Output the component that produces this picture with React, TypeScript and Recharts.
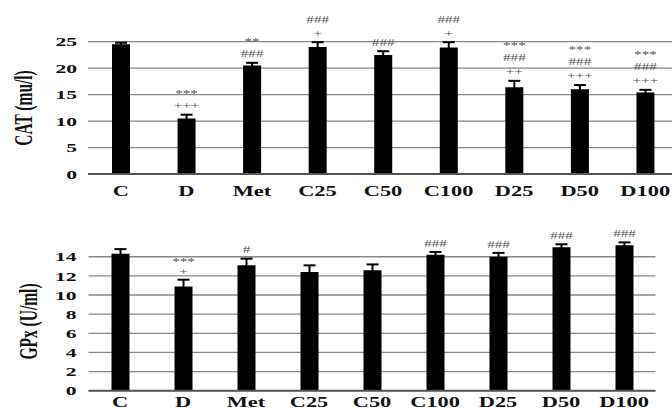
import React from 'react';
import { ComposedChart, Bar, XAxis, YAxis, CartesianGrid, ErrorBar, LabelList } from 'recharts';

const categories = ['C', 'D', 'Met', 'C25', 'C50', 'C100', 'D25', 'D50', 'D100'];
const catMeans = [24.5, 10.5, 20.5, 24.0, 22.5, 23.9, 16.4, 16.0, 15.4];
const catErr = [0.3, 0.7, 0.5, 0.9, 0.7, 1.0, 1.2, 0.8, 0.5];
const catMarks = [
  [],
  ['***', '+++'],
  ['**', '###'],
  ['###', '+'],
  ['###'],
  ['###', '+'],
  ['***', '###', '++'],
  ['***', '###', '+++'],
  ['***', '###', '+++'],
];
const catTicks = [0, 5, 10, 15, 20, 25];

const gpxMeans = [14.3, 10.9, 13.1, 12.4, 12.6, 14.2, 14.0, 15.0, 15.2];
const gpxErr = [0.5, 0.7, 0.7, 0.7, 0.6, 0.3, 0.4, 0.3, 0.3];
const gpxMarks = [
  [],
  ['***', '+'],
  ['#'],
  [],
  [],
  ['###'],
  ['###'],
  ['###'],
  ['###'],
];
const gpxTicks = [0, 2, 4, 6, 8, 10, 12, 14];

const catData = categories.map((c, i) => ({ name: c, v: catMeans[i], err: catErr[i] }));
const gpxData = categories.map((c, i) => ({ name: c, v: gpxMeans[i], err: gpxErr[i] }));

const SERIF = '"Liberation Serif", "Times New Roman", serif';
const SX = 1.6;

const YTick = (props: any) => {
  const { x, y, payload } = props;
  return (
    <text
      transform={`translate(${x},${y}) scale(${SX},1)`}
      textAnchor="end"
      dy="0.35em"
      fontFamily={SERIF}
      fontWeight="bold"
      fontSize={13.5}
      fill="#111"
    >
      {payload.value}
    </text>
  );
};

const makeXTick = (dy: number) => (props: any) => {
  const { x, y, payload } = props;
  return (
    <text
      transform={`translate(${x},${y}) scale(${SX},1)`}
      textAnchor="middle"
      y={dy}
      fontFamily={SERIF}
      fontWeight="bold"
      fontSize={14}
      fill="#111"
    >
      {payload.value}
    </text>
  );
};

const makeMarks = (marks: string[][], errs: number[], first: number, gap: number) => (props: any) => {
  const { x, y, width, height, value, index } = props;
  const lines = marks[index] || [];
  if (!lines.length) return null;
  const ppu = Number(height) / Number(value);
  const errTop = Number(y) - errs[index] * ppu;
  const cx = Number(x) + Number(width) / 2;
  const n = lines.length;
  return (
    <g>
      {lines.map((s, k) => {
        const cy = errTop - first - (n - 1 - k) * gap;
        return (
          <text
            key={k}
            transform={`translate(${cx},${cy}) scale(${SX},1)`}
            textAnchor="middle"
            dy={s.startsWith('*') ? '0.55em' : '0.35em'}
            fontFamily={SERIF}
            fontSize={9.5}
            fill="#555"
          >
            {s}
          </text>
        );
      })}
    </g>
  );
};

const makeTitle = (text: string, cx: number, cy: number) => () => (
  <text
    transform={`translate(${cx},${cy}) scale(1.6,1) rotate(-90)`}
    textAnchor="middle"
    dy="0.35em"
    fontFamily={SERIF}
    fontWeight="bold"
    fontSize={15.5}
    fill="#111"
  >
    {text}
  </text>
);

export default function App() {
  return (
    <div style={{ position: 'absolute', left: 0, top: 0, width: 672, height: 409, overflow: 'hidden', background: '#fff' }}>
      <div style={{ position: 'absolute', left: 0, top: 0 }}>
        <ComposedChart width={690} height={205} data={catData} margin={{ top: 15.2, right: 12, bottom: 0, left: 0 }}>
          <CartesianGrid vertical={false} stroke="#888" strokeWidth={1.3} horizontalValues={catTicks} />
          <XAxis
            dataKey="name"
            height={31}
            axisLine={{ stroke: '#555', strokeWidth: 2 }}
            tickLine={false}
            tickSize={0}
            tickMargin={0}
            interval={0}
            tick={makeXTick(22)}
          />
          <YAxis
            width={88}
            domain={[0, 30]}
            ticks={catTicks}
            interval={0}
            axisLine={false}
            tickLine={false}
            tickSize={0}
            tickMargin={11}
            tick={<YTick />}
            label={{ content: makeTitle('CAT (mu/l)', 23, 108) }}
          />
          <Bar dataKey="v" fill="#000" barSize={18} isAnimationActive={false}>
            <ErrorBar dataKey="err" direction="y" width={6} stroke="#000" strokeWidth={2} isAnimationActive={false} />
            <LabelList dataKey="v" content={makeMarks(catMarks, catErr, 9, 14)} />
          </Bar>
        </ComposedChart>
      </div>
      <div style={{ position: 'absolute', left: 0, top: 205 }}>
        <ComposedChart width={672} height={204} data={gpxData} margin={{ top: 32.6, right: 16.5, bottom: 0, left: 0 }}>
          <CartesianGrid vertical={false} stroke="#888" strokeWidth={1.3} horizontalValues={gpxTicks} />
          <XAxis
            dataKey="name"
            height={18.3}
            axisLine={{ stroke: '#555', strokeWidth: 2 }}
            tickLine={false}
            tickSize={0}
            tickMargin={0}
            interval={0}
            tick={makeXTick(16)}
          />
          <YAxis
            width={88.5}
            domain={[0, 16]}
            ticks={gpxTicks}
            interval={0}
            axisLine={false}
            tickLine={false}
            tickSize={0}
            tickMargin={12}
            tick={<YTick />}
            label={{ content: makeTitle('GPx (U/ml)', 28, 116.5) }}
          />
          <Bar dataKey="v" fill="#000" barSize={18} isAnimationActive={false}>
            <ErrorBar dataKey="err" direction="y" width={6} stroke="#000" strokeWidth={2} isAnimationActive={false} />
            <LabelList dataKey="v" content={makeMarks(gpxMarks, gpxErr, 8.5, 11)} />
          </Bar>
        </ComposedChart>
      </div>
    </div>
  );
}
